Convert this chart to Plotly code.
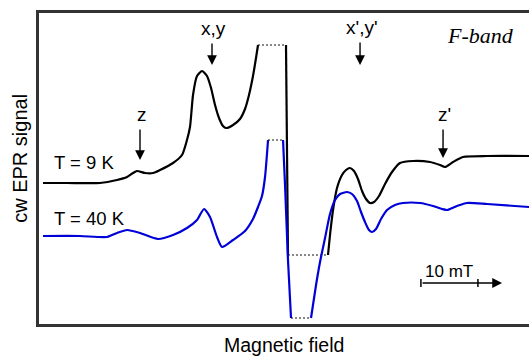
import plotly.graph_objects as go

# ---- data (field in mT, relative; signal in arbitrary units) ----
# T = 9 K, three solid segments (dotted connectors mark the clipped parts)
black_field_1 = [0.70, 4.91, 10.70, 13.68, 15.44, 16.49, 17.19, 18.60, 20.00, 21.23, 23.51, 25.09,
                 25.96, 26.49, 27.02, 27.72, 28.60, 29.47, 30.18, 30.88, 31.58, 32.28, 32.81, 34.04,
                 35.26, 36.14, 36.84, 37.54, 38.07, 38.42]
black_signal_1 = [141, 141, 141, 144, 147, 151, 153, 151, 151, 154, 161, 169,
                  184, 197, 229, 248, 253, 248, 236, 219, 206, 198, 196, 199,
                  205, 215, 229, 248, 266, 279]
black_field_2 = [43.33, 43.68]
black_signal_2 = [279, 69]
black_field_3 = [50.70, 51.05, 51.58, 52.28, 53.16, 53.86, 54.56, 55.26, 55.96, 56.67, 57.37, 58.07,
                 58.77, 59.65, 60.70, 61.93, 63.33, 65.61, 68.60, 70.35, 71.23, 72.63, 74.39, 78.60, 85.96]
black_signal_3 = [69, 89, 114, 136, 149, 154, 156, 153, 145, 133, 125, 121,
                  122, 128, 140, 152, 161, 163, 162, 159, 157, 162, 167, 168, 168]

# T = 40 K
blue_field_1 = [0.70, 7.19, 11.93, 13.68, 15.44, 17.72, 20.88, 23.51, 25.96, 27.72, 28.95, 30.00,
                31.23, 32.11, 34.04, 36.14, 37.54, 38.42, 39.12, 39.65, 40.18]
blue_signal_1 = [88, 88, 87, 91, 94, 91, 85, 89, 96, 104, 115, 107,
                 87, 77, 84, 93, 105, 117, 128, 147, 184]
blue_field_2 = [42.81, 43.16, 43.68, 44.21]
blue_signal_2 = [184, 139, 64, 6]
blue_field_3 = [47.72, 48.60, 49.30, 50.18, 51.05, 51.93, 52.81, 54.04, 54.91, 55.79, 56.49, 57.19,
                57.89, 58.42, 59.12, 60.00, 61.05, 62.46, 63.86, 66.84, 69.12, 70.70, 71.58, 73.33,
                75.09, 78.60, 85.96]
blue_signal_3 = [6, 39, 62, 86, 110, 124, 130, 132, 130, 123, 112, 102,
                 94, 92, 95, 105, 114, 119, 121, 121, 118, 115, 114, 118,
                 121, 120, 117]

# transition markers: (label, field, arrow tip signal)
marker_labels = ["z", "x,y", "x',y'", "z'"]
marker_fields = [17.72, 30.35, 56.32, 70.88]
marker_tips = [164, 259, 259, 166]

series_labels = ["T = 9 K", "T = 40 K"]
scale_bar_start = 67.0
scale_bar_mT = 10

BLACK = "#000000"
BLUE = "#0000d8"
FONT = "Liberation Sans, Arial, sans-serif"

fig = go.Figure()

def add_curve(segments, color):
    for fx, sy in segments:
        fig.add_trace(go.Scatter(x=fx, y=sy, mode="lines",
                                 line=dict(color=color, width=2.2, shape="spline", smoothing=0.6),
                                 hoverinfo="skip", showlegend=False))
    # dotted connectors between consecutive segments
    for (fx_a, sy_a), (fx_b, sy_b) in zip(segments[:-1], segments[1:]):
        fig.add_trace(go.Scatter(x=[fx_a[-1], fx_b[0]], y=[sy_a[-1], sy_b[0]], mode="lines",
                                 line=dict(color="#111111", width=1.2, dash="2px,2px"),
                                 hoverinfo="skip", showlegend=False))

add_curve([(black_field_1, black_signal_1), (black_field_2, black_signal_2),
           (black_field_3, black_signal_3)], BLACK)
add_curve([(blue_field_1, blue_signal_1), (blue_field_2, blue_signal_2),
           (blue_field_3, blue_signal_3)], BLUE)

annotations = []
# arrows + labels for transitions
arrow_len = [32, 23, 24, 30]
for lab, fx, tip, ln in zip(marker_labels, marker_fields, marker_tips, arrow_len):
    annotations.append(dict(x=fx, y=tip, xref="x", yref="y", text="", showarrow=True,
                            ax=0, ay=-ln, arrowhead=2, arrowsize=1.4, arrowwidth=1.4,
                            arrowcolor=BLACK))
    annotations.append(dict(x=fx + 0.3, y=tip + ln + 14, xref="x", yref="y", text=lab,
                            showarrow=False, font=dict(family=FONT, size=19, color=BLACK),
                            xanchor="center", yanchor="middle"))

# series labels
annotations.append(dict(x=2.28, y=162, xref="x", yref="y", text=series_labels[0], showarrow=False,
                        xanchor="left", yanchor="middle", font=dict(family=FONT, size=18.5, color=BLACK)))
annotations.append(dict(x=2.28, y=106, xref="x", yref="y", text=series_labels[1], showarrow=False,
                        xanchor="left", yanchor="middle", font=dict(family=FONT, size=18.5, color=BLACK)))

# band label
annotations.append(dict(x=77.37, y=289, xref="x", yref="y", text="<i>F-band</i>", showarrow=False,
                        xanchor="center", yanchor="middle",
                        font=dict(family="Liberation Serif, DejaVu Serif, serif", size=22, color=BLACK)))

# scale bar
annotations.append(dict(x=81.23, y=41, xref="x", yref="y", text="", showarrow=True,
                        ax=-81, ay=0, arrowhead=2, arrowsize=1.4, arrowwidth=1.4, arrowcolor=BLACK))
annotations.append(dict(x=scale_bar_start + scale_bar_mT / 2, y=53, xref="x", yref="y",
                        text=f"{scale_bar_mT} mT", showarrow=False, xanchor="center", yanchor="middle",
                        font=dict(family=FONT, size=17, color=BLACK)))

# axis titles
annotations.append(dict(x=-0.039, y=0.534, xref="paper", yref="paper", text="cw EPR signal",
                        showarrow=False, textangle=-90, xanchor="center", yanchor="middle",
                        font=dict(family=FONT, size=20, color=BLACK)))
annotations.append(dict(x=0.5, y=-0.068, xref="paper", yref="paper", text="Magnetic field",
                        showarrow=False, xanchor="center", yanchor="middle",
                        font=dict(family=FONT, size=19.5, color=BLACK)))

shapes = []
for fx in (scale_bar_start, scale_bar_start + scale_bar_mT):
    shapes.append(dict(type="line", xref="x", yref="y", x0=fx, x1=fx, y0=37, y1=45,
                       line=dict(color=BLACK, width=1.5)))

fig.update_layout(
    width=529, height=356,
    margin=dict(l=39, r=0, t=13, b=32),
    paper_bgcolor="white", plot_bgcolor="white",
    showlegend=False,
    annotations=annotations,
    shapes=shapes,
    xaxis=dict(range=[0, 85.96], showgrid=False, zeroline=False, showticklabels=False, ticks="",
               showline=True, linewidth=2.5, linecolor="#333333", mirror=True, fixedrange=True),
    yaxis=dict(range=[0, 311], showgrid=False, zeroline=False, showticklabels=False, ticks="",
               showline=True, linewidth=2.5, linecolor="#333333", mirror=False, fixedrange=True),
)

fig.write_html("out.html", config={"displayModeBar": False},
               post_script="document.body.style.margin='0';document.body.style.overflow='hidden';")
